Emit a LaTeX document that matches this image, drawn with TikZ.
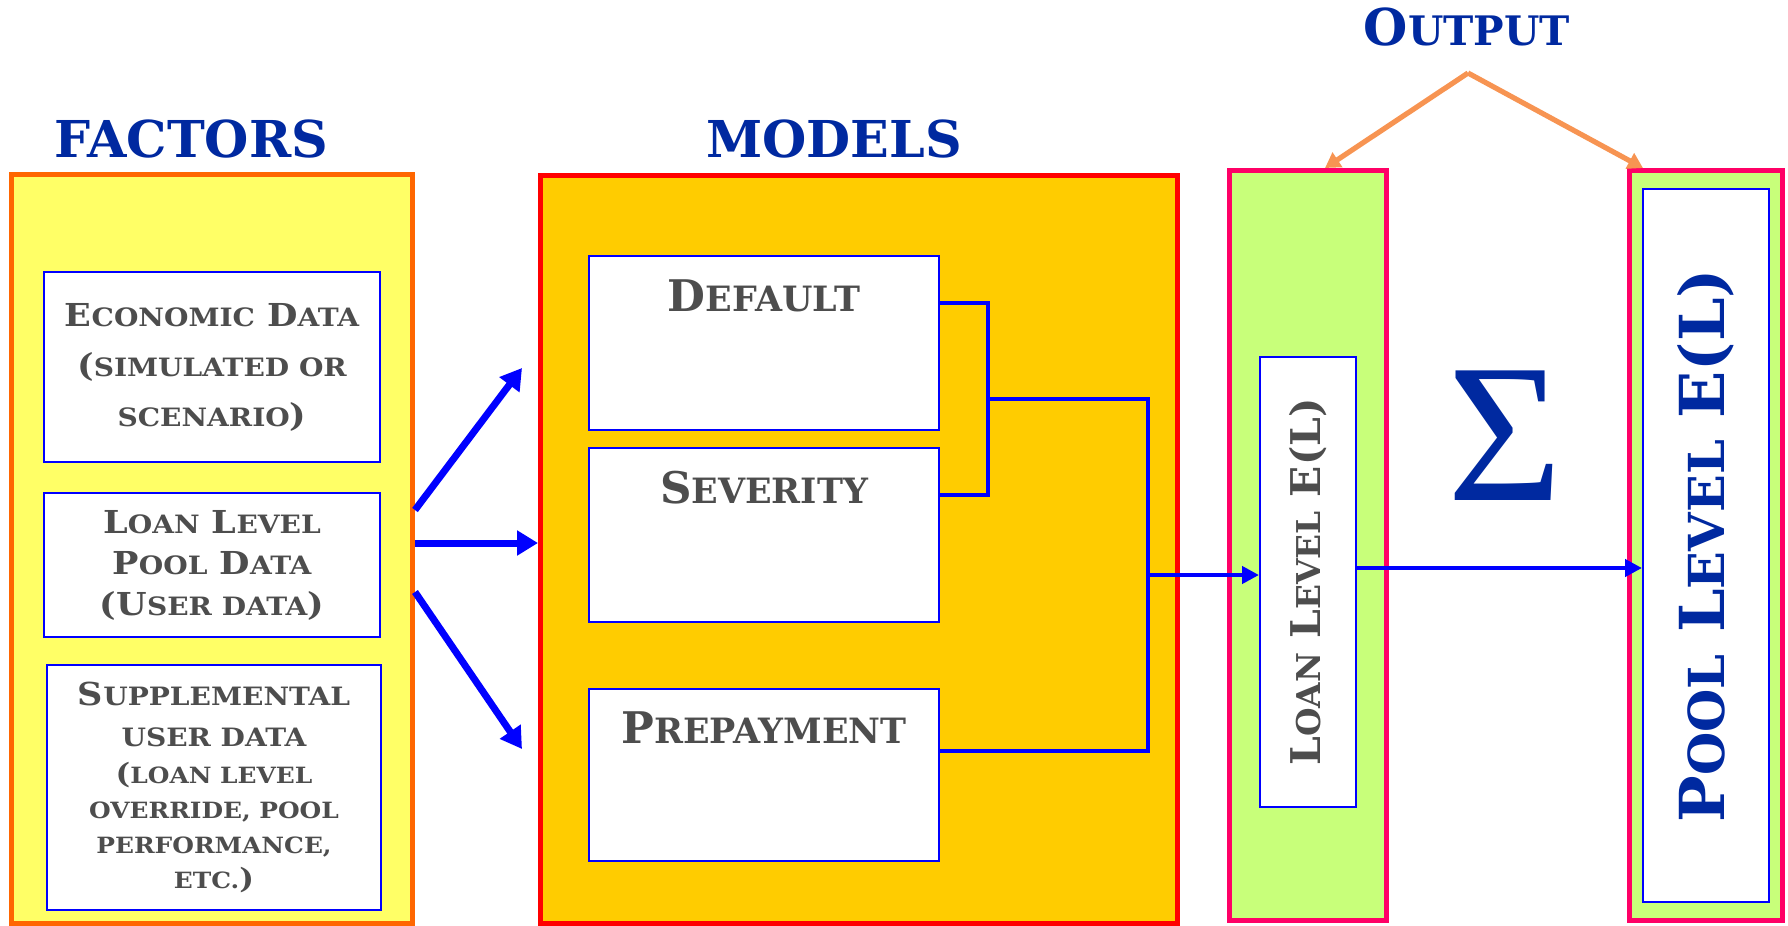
\documentclass[tikz,border=0pt]{standalone}
\usepackage{fontspec}
\setmainfont{DejaVu Serif}
\newfontfamily\boxfont{DejaVu Serif}[FakeStretch=1.11]
\newfontfamily\sigmafont{Liberation Serif}
\usetikzlibrary{arrows.meta}

\definecolor{titleblue}{HTML}{0029A0}
\definecolor{txtgray}{HTML}{4D4D4D}
\definecolor{lineblue}{HTML}{0000FF}
\definecolor{facborder}{HTML}{FF6600}
\definecolor{facfill}{HTML}{FFFF66}
\definecolor{modborder}{HTML}{FF0000}
\definecolor{modfill}{HTML}{FFCC00}
\definecolor{outborder}{HTML}{FF0066}
\definecolor{outfill}{HTML}{C8FF7A}
\definecolor{outarrow}{HTML}{F79452}

% small-cap imitation: the letters after an initial capital
\makeatletter
\newcommand\lc[1]{{\fontsize{\fpeval{0.8*\f@size}}{\f@baselineskip}\selectfont #1}}
\makeatother

\tikzset{
  title/.style={font=\bfseries\fontsize{25.4}{26}\selectfont, text=titleblue, anchor=base, inner sep=0pt},
  panel/.style={draw, line width=2.5pt, inner sep=0pt},
  databox/.style={draw=lineblue, line width=1pt, fill=white, inner sep=0pt, align=center, text=txtgray},
  modelbox/.style={draw=lineblue, line width=1pt, fill=white, inner sep=0pt},
  modeltext/.style={font=\bfseries\fontsize{21.8}{22}\selectfont, text=txtgray, anchor=base, inner sep=0pt},
  feed/.style={draw=lineblue, line width=3.5pt, -{Triangle[length=10.5pt,width=12pt]}},
  conn/.style={draw=lineblue, line width=2.4pt},
  connarrow/.style={conn, -{Triangle[length=8.5pt,width=8.5pt]}},
  outpoint/.style={draw=outarrow, line width=2.6pt, -{Triangle[length=7.5pt,width=8.5pt]}},
}

\begin{document}
\begin{tikzpicture}[x=0.5pt, y=-0.5pt]
\useasboundingbox (0,0) rectangle (1788,926);
\begin{scope}
\clip (0,0) rectangle (1788,926);

% ---- titles
\node[title] (tfac) at (191,157) {FACTORS};
\node[title] (tmod) at (834,157) {MODELS};
\node[title] (tout) at (1467,46) {O\lc{UTPUT}};

% ---- factors panel
\node[panel, draw=facborder, fill=facfill, minimum width=200.5pt, minimum height=374.5pt] (fac) at (212,549) {};
\node[databox, minimum width=168pt, minimum height=95pt,
      font=\boxfont\bfseries\fontsize{15.8}{25}\selectfont] (econ) at (212,367)
  {E\lc{CONOMIC} D\lc{ATA}\\(\lc{SIMULATED OR}\\\lc{SCENARIO})};
\node[databox, minimum width=168pt, minimum height=72pt,
      font=\boxfont\bfseries\fontsize{15.8}{20.5}\selectfont] (pooldata) at (212,565)
  {L\lc{OAN} L\lc{EVEL}\\P\lc{OOL} D\lc{ATA}\\(U\lc{SER DATA})};
\node[databox, minimum width=167pt, minimum height=122.5pt,
      font=\boxfont\bfseries\fontsize{15.8}{20.5}\selectfont] (supp) at (214,787.5)
  {S\lc{UPPLEMENTAL}\\\lc{USER DATA}\\[-2pt]
   {\fontsize{14}{17.5}\selectfont(\lc{LOAN LEVEL}}\\[-3pt]
   {\fontsize{14}{17.5}\selectfont\lc{OVERRIDE, POOL}}\\[-3pt]
   {\fontsize{14}{17.5}\selectfont\lc{PERFORMANCE,}}\\[-3pt]
   {\fontsize{14}{17.5}\selectfont\lc{ETC.})}};

% ---- models panel
\node[panel, draw=modborder, fill=modfill, minimum width=318.5pt, minimum height=374pt] (mod) at (859,549.5) {};
\node[modelbox, minimum width=175pt, minimum height=87pt] (def) at (764,343) {};
\node[modelbox, minimum width=175pt, minimum height=87pt] (sev) at (764,535) {};
\node[modelbox, minimum width=175pt, minimum height=86pt] (pre) at (764,775) {};
\node[modeltext] (tdef) at (764,311) {D\lc{EFAULT}};
\node[modeltext] (tsev) at (764,503) {S\lc{EVERITY}};
\node[modeltext] (tpre) at (764,743) {P\lc{REPAYMENT}};

% ---- output panels
\node[panel, draw=outborder, fill=outfill, minimum width=78.5pt, minimum height=375pt] (loanout) at (1308,545.5) {};
\node[modelbox, minimum width=48pt, minimum height=225pt] (loanin) at (1308,582) {};
\node[rotate=90, text=txtgray, inner sep=0pt, font=\bfseries\fontsize{20.5}{22}\selectfont] (tloan) at (loanin.center)
  {L\lc{OAN} L\lc{EVEL} E(L)};
\node[panel, draw=outborder, fill=outfill, minimum width=76.5pt, minimum height=375pt] (poolout) at (1706,545.5) {};
\node[modelbox, minimum width=63pt, minimum height=356.5pt] (poolin) at (1706,545.5) {};
\node[rotate=90, text=titleblue, inner sep=0pt, font=\bfseries\fontsize{31}{32}\selectfont] (tpool) at (poolin.center)
  {P\lc{OOL} L\lc{EVEL} E(L)};
\node[text=titleblue, inner sep=0pt, font=\sigmafont\fontsize{99}{99}\selectfont] (sum) at (1505,436) {Σ};

% ---- factor feeds
\coordinate (s1) at (416,510);
\coordinate (e1) at (522,368);
\coordinate (s2) at (416,543);
\coordinate (s3) at (416,592);
\coordinate (e3) at (522,749);
\draw[feed] (fac.east |- s1) -- (e1);
\draw[feed] (fac.east |- s2) -- (mod.west |- s2);
\draw[feed] (fac.east |- s3) -- (e3);

% ---- model combination
\coordinate (j1) at (988,303);
\coordinate (j2) at (988,495);
\coordinate (j3) at (988,399);
\coordinate (j4) at (1148,399);
\coordinate (j5) at (1148,751);
\coordinate (j6) at (1148,575);
\coordinate (j7) at (1357,568);
\draw[conn] (def.east |- j1) -- (j1) -- (j2) -- (sev.east |- j2);
\draw[conn] (j3) -- (j4) -- (j5) -- (pre.east |- j5);
\draw[connarrow] (j6) -- (loanin.west |- j6);
\draw[connarrow] (loanin.east |- j7) -- (poolin.west |- j7);

% ---- output pointers
\coordinate (apex) at (1468,73);
\coordinate (pl) at (1325,0);
\coordinate (pr) at (1643,0);
\draw[outpoint] (apex) -- (loanout.north -| pl);
\draw[outpoint] (apex) -- (poolout.north -| pr);
\end{scope}
\end{tikzpicture}
\end{document}
